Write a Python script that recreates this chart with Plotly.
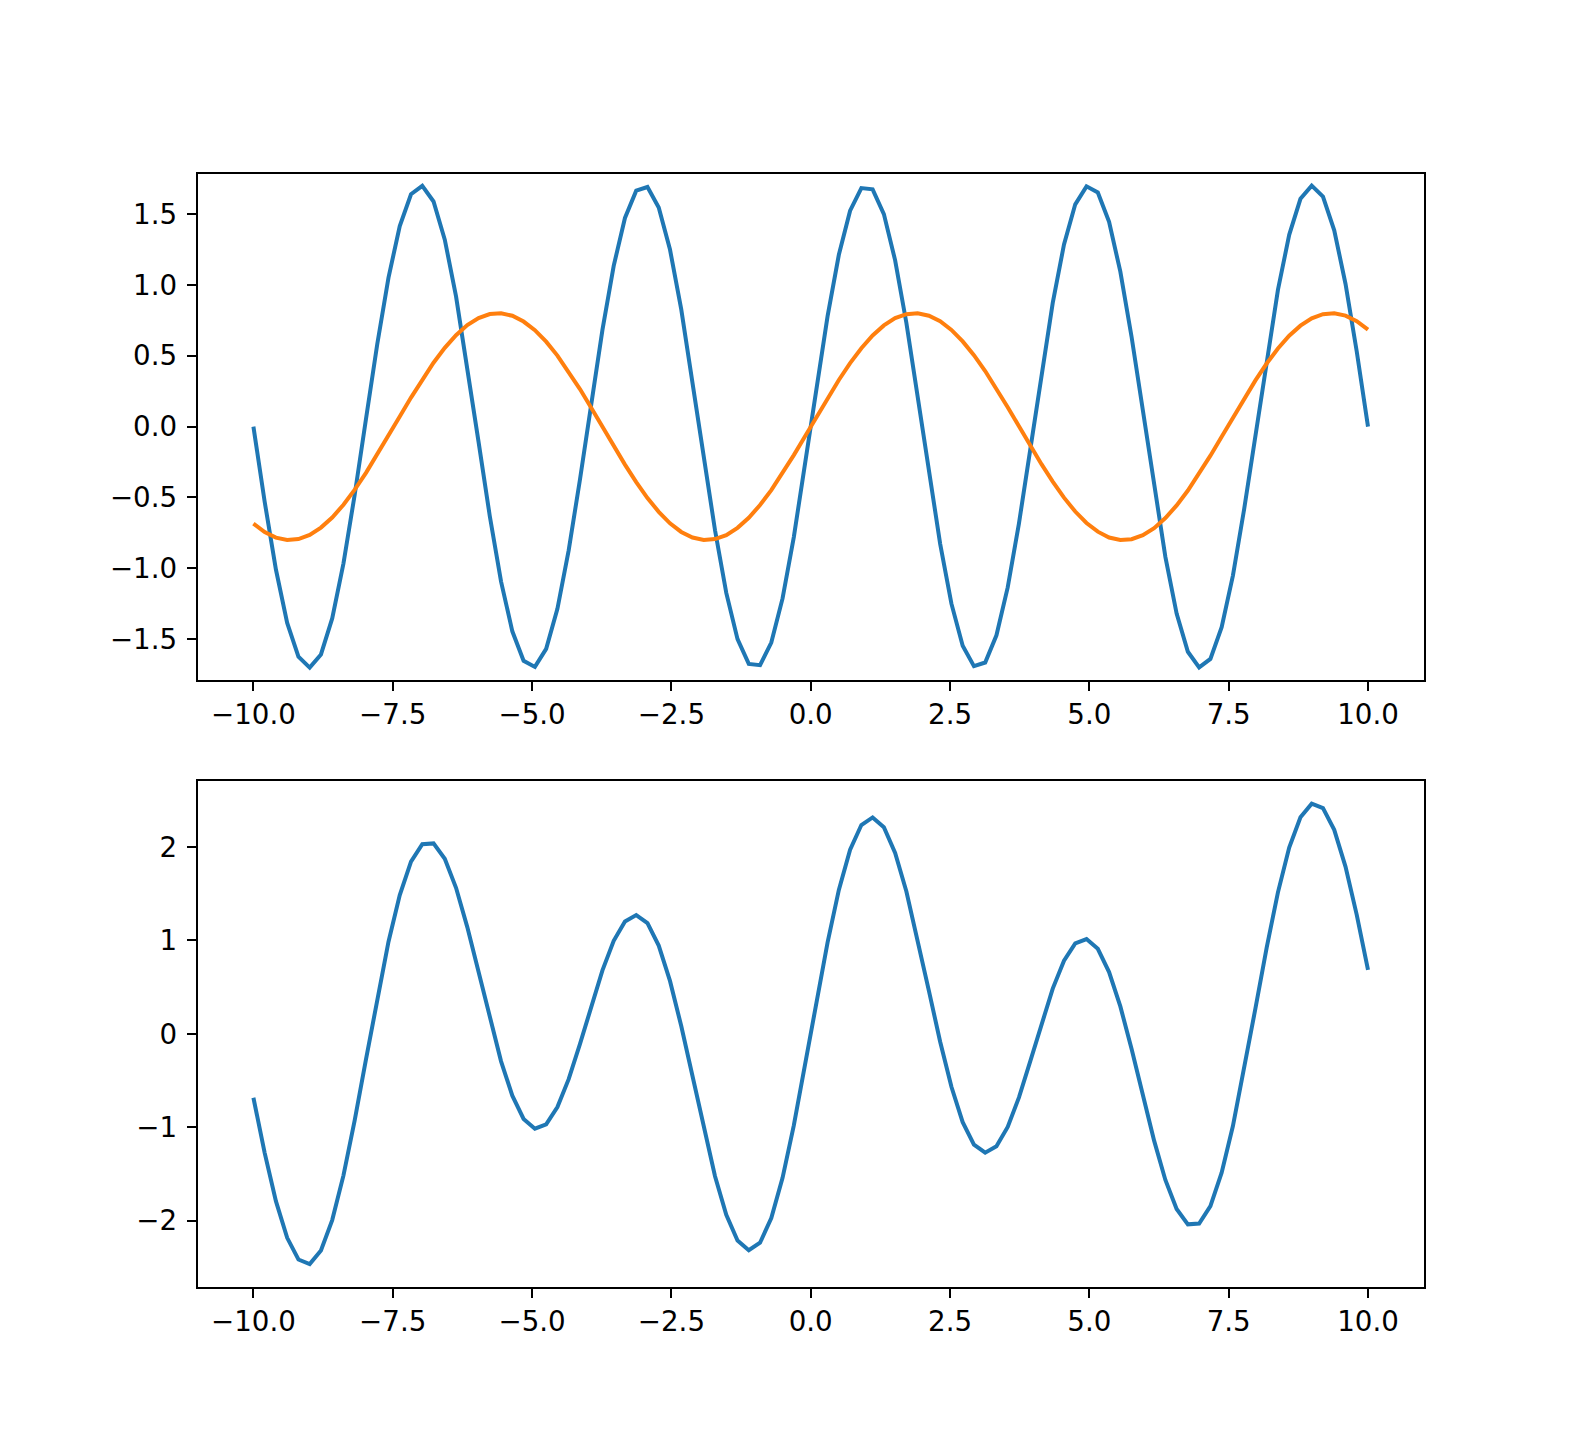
import plotly.graph_objs as go

# x samples (100 points from -10 to 10)
x = [-10.000, -9.798, -9.596, -9.394, -9.192, -8.990, -8.788, -8.586, -8.384, -8.182,
     -7.980, -7.778, -7.576, -7.374, -7.172, -6.970, -6.768, -6.566, -6.364, -6.162,
     -5.960, -5.758, -5.556, -5.354, -5.152, -4.949, -4.747, -4.545, -4.343, -4.141,
     -3.939, -3.737, -3.535, -3.333, -3.131, -2.929, -2.727, -2.525, -2.323, -2.121,
     -1.919, -1.717, -1.515, -1.313, -1.111, -0.909, -0.707, -0.505, -0.303, -0.101,
     0.101, 0.303, 0.505, 0.707, 0.909, 1.111, 1.313, 1.515, 1.717, 1.919,
     2.121, 2.323, 2.525, 2.727, 2.929, 3.131, 3.333, 3.535, 3.737, 3.939,
     4.141, 4.343, 4.545, 4.747, 4.949, 5.152, 5.354, 5.556, 5.758, 5.960,
     6.162, 6.364, 6.566, 6.768, 6.970, 7.172, 7.374, 7.576, 7.778, 7.980,
     8.182, 8.384, 8.586, 8.788, 8.990, 9.192, 9.394, 9.596, 9.798, 10.000]

# top panel, blue (fast wave)
fast = [0.000, -0.530, -1.008, -1.385, -1.623, -1.700, -1.607, -1.353, -0.964, -0.479,
        0.054, 0.581, 1.051, 1.415, 1.639, 1.698, 1.588, 1.319, 0.919, 0.427,
        -0.108, -0.632, -1.093, -1.444, -1.652, -1.695, -1.568, -1.285, -0.873, -0.375,
        0.161, 0.682, 1.134, 1.472, 1.664, 1.690, 1.546, 1.249, 0.827, 0.322,
        -0.215, -0.731, -1.173, -1.499, -1.674, -1.683, -1.523, -1.212, -0.779, -0.269,
        0.269, 0.779, 1.212, 1.523, 1.683, 1.674, 1.499, 1.173, 0.731, 0.215,
        -0.322, -0.827, -1.249, -1.546, -1.690, -1.664, -1.472, -1.134, -0.682, -0.161,
        0.375, 0.873, 1.285, 1.568, 1.695, 1.652, 1.444, 1.093, 0.632, 0.108,
        -0.427, -0.919, -1.319, -1.588, -1.698, -1.639, -1.415, -1.051, -0.581, -0.054,
        0.479, 0.964, 1.353, 1.607, 1.700, 1.623, 1.385, 1.008, 0.530, 0.000]

# top panel, orange (slow wave)
slow = [-0.684, -0.744, -0.783, -0.799, -0.793, -0.764, -0.712, -0.641, -0.551, -0.445,
        -0.326, -0.198, -0.064, 0.071, 0.205, 0.333, 0.451, 0.556, 0.645, 0.716,
        0.766, 0.794, 0.799, 0.782, 0.741, 0.680, 0.599, 0.501, 0.388, 0.265,
        0.133, -0.002, -0.137, -0.268, -0.392, -0.504, -0.601, -0.682, -0.743, -0.782,
        -0.799, -0.793, -0.765, -0.714, -0.643, -0.553, -0.448, -0.329, -0.201, -0.068,
        0.068, 0.201, 0.329, 0.448, 0.553, 0.643, 0.714, 0.765, 0.793, 0.799,
        0.782, 0.743, 0.682, 0.601, 0.504, 0.392, 0.268, 0.137, 0.002, -0.133,
        -0.265, -0.388, -0.501, -0.599, -0.680, -0.741, -0.782, -0.799, -0.794, -0.766,
        -0.716, -0.645, -0.556, -0.451, -0.333, -0.205, -0.071, 0.064, 0.198, 0.326,
        0.445, 0.551, 0.641, 0.712, 0.764, 0.793, 0.799, 0.783, 0.744, 0.684]

# bottom panel (the two waves together)
combined = [-0.684, -1.274, -1.791, -2.184, -2.416, -2.464, -2.319, -1.994, -1.515, -0.924,
            -0.272, 0.383, 0.987, 1.486, 1.844, 2.031, 2.039, 1.875, 1.564, 1.143,
            0.658, 0.162, -0.294, -0.662, -0.911, -1.015, -0.969, -0.784, -0.485, -0.110,
            0.294, 0.680, 0.997, 1.204, 1.272, 1.186, 0.945, 0.567, 0.084, -0.460,
            -1.014, -1.524, -1.938, -2.213, -2.317, -2.236, -1.971, -1.541, -0.980, -0.337,
            0.337, 0.980, 1.541, 1.971, 2.236, 2.317, 2.213, 1.938, 1.524, 1.014,
            0.460, -0.084, -0.567, -0.945, -1.186, -1.272, -1.204, -0.997, -0.680, -0.294,
            0.110, 0.485, 0.784, 0.969, 1.015, 0.911, 0.662, 0.294, -0.162, -0.658,
            -1.143, -1.564, -1.875, -2.039, -2.031, -1.844, -1.486, -0.987, -0.383, 0.272,
            0.924, 1.515, 1.994, 2.319, 2.464, 2.416, 2.184, 1.791, 1.274, 0.684]

xticks = [-10, -7.5, -5, -2.5, 0, 2.5, 5, 7.5, 10]
xtick_text = ['\u221210.0', '\u22127.5', '\u22125.0', '\u22122.5', '0.0', '2.5', '5.0', '7.5', '10.0']
yticks_top = [-1.5, -1.0, -0.5, 0, 0.5, 1.0, 1.5]
ytick_text_top = ['\u22121.5', '\u22121.0', '\u22120.5', '0.0', '0.5', '1.0', '1.5']
yticks_bot = [-2, -1, 0, 1, 2]
ytick_text_bot = ['\u22122', '\u22121', '0', '1', '2']

blue = '#1f77b4'
orange = '#ff7f0e'
W, H = 1582, 1446

fig = go.Figure()
fig.add_trace(go.Scatter(x=x, y=fast, mode='lines', line=dict(color=blue, width=4),
                         xaxis='x', yaxis='y'))
fig.add_trace(go.Scatter(x=x, y=slow, mode='lines', line=dict(color=orange, width=4),
                         xaxis='x', yaxis='y'))
fig.add_trace(go.Scatter(x=x, y=combined, mode='lines', line=dict(color=blue, width=4),
                         xaxis='x2', yaxis='y2'))

ax = dict(showline=True, linecolor='black', linewidth=2, mirror=True,
          ticks='outside', ticklen=9, tickwidth=2, tickcolor='black',
          showgrid=False, zeroline=False,
          tickfont=dict(family='DejaVu Sans', size=27.7, color='black'))

# domains shifted a bit to make up for the page margin
fig.update_layout(
    width=W, height=H, showlegend=False,
    margin=dict(l=0, r=0, t=0, b=0),
    paper_bgcolor='white', plot_bgcolor='white',
    xaxis=dict(ax, domain=[0.1199, 0.8949], range=[-11, 11], anchor='y',
               tickvals=xticks, ticktext=xtick_text),
    yaxis=dict(ax, domain=[0.5355, 0.8855], range=[-1.785, 1.785], anchor='x',
               tickvals=yticks_top, ticktext=ytick_text_top, ticklabelstandoff=4),
    xaxis2=dict(ax, domain=[0.1199, 0.8949], range=[-11, 11], anchor='y2',
                tickvals=xticks, ticktext=xtick_text),
    yaxis2=dict(ax, domain=[0.1155, 0.4656], range=[-2.71, 2.71], anchor='x2',
                tickvals=yticks_bot, ticktext=ytick_text_bot, ticklabelstandoff=4),
)

fig.write_html("out.html")
